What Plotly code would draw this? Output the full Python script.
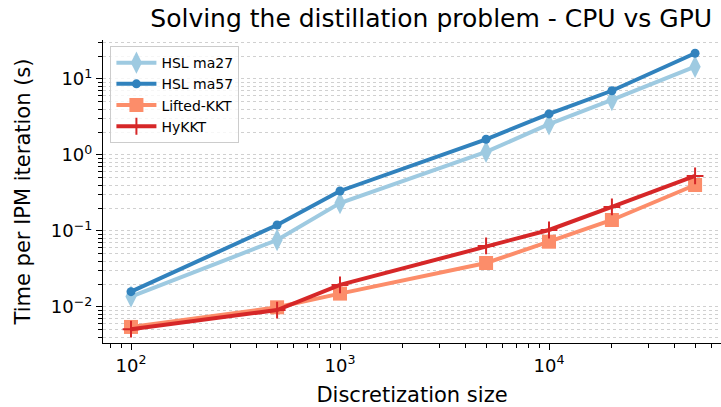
import plotly.graph_objects as go

sizes = [100, 500, 1000, 5000, 10000, 20000, 50000]
ma27 = [0.0137, 0.076, 0.233, 1.10, 2.54, 5.3, 14.5]
ma57 = [0.0159, 0.120, 0.336, 1.61, 3.47, 7.0, 21.8]
lifted = [0.00546, 0.0099, 0.0150, 0.0379, 0.0723, 0.1395, 0.403]
hykkt = [0.0051, 0.0091, 0.0195, 0.0635, 0.103, 0.207, 0.53]

x_tickvals = [100, 1000, 10000]
x_ticktext = ["10<sup>2</sup>", "10<sup>3</sup>", "10<sup>4</sup>"]
y_tickvals = [0.01, 0.1, 1, 10]
y_ticktext = ["10<sup>\u22122</sup>", "10<sup>\u22121</sup>", "10<sup>0</sup>", "10<sup>1</sup>"]

# minor tick positions (2..9 within each decade)
x_minor = [m * 10 ** e for e in range(1, 5) for m in range(2, 10)]
y_minor = [m * 10.0 ** e for e in range(-3, 2) for m in range(2, 10)]

FONT = "DejaVu Sans"

fig = go.Figure()
fig.add_trace(go.Scatter(x=sizes, y=ma27, name="HSL ma27", mode="lines+markers",
                         line=dict(color="#9ecae1", width=4),
                         marker=dict(symbol="diamond-tall", size=16, color="#9ecae1")))
fig.add_trace(go.Scatter(x=sizes, y=ma57, name="HSL ma57", mode="lines+markers",
                         line=dict(color="#3182bd", width=4),
                         marker=dict(symbol="circle", size=9, color="#3182bd")))
fig.add_trace(go.Scatter(x=sizes, y=lifted, name="Lifted-KKT", mode="lines+markers",
                         line=dict(color="#fc8d6a", width=4),
                         marker=dict(symbol="square", size=14, color="#fc8d6a")))
fig.add_trace(go.Scatter(x=sizes, y=hykkt, name="HyKKT", mode="lines+markers",
                         line=dict(color="#d62728", width=4),
                         marker=dict(symbol="cross-thin", size=12, color="#d62728",
                                     line=dict(color="#d62728", width=2))))

fig.update_layout(
    width=721, height=407,
    margin=dict(l=103, r=0, t=40, b=64, autoexpand=False),
    paper_bgcolor="white", plot_bgcolor="white",
    font=dict(family=FONT, color="black"),
    title=dict(text="Solving the distillation problem - CPU vs GPU", x=0.598, xanchor="center",
               y=0.956, yanchor="middle", font=dict(size=25, family=FONT)),
    showlegend=True,
    legend=dict(x=0.012, y=0.98, xanchor="left", yanchor="top",
                bgcolor="rgba(255,255,255,0.8)", bordercolor="#cccccc", borderwidth=1,
                font=dict(size=14, family=FONT), tracegroupgap=0, itemwidth=40),
)
fig.update_xaxes(type="log", range=[1.866, 4.823], showline=True, linecolor="black", linewidth=1.2,
                 ticks="outside", ticklen=6, tickcolor="black", showgrid=False, zeroline=False,
                 tickmode="array", tickvals=x_tickvals, ticktext=x_ticktext, automargin=False,
                 tickfont=dict(size=18, family=FONT),
                 minor=dict(tickmode="array", tickvals=x_minor, ticks="outside", ticklen=3.5,
                            tickcolor="black", showgrid=False),
                 title=dict(text="Discretization size", font=dict(size=21, family=FONT), standoff=12))
fig.update_yaxes(type="log", range=[-2.474, 1.513], showline=True, linecolor="black", linewidth=1.2,
                 ticks="outside", ticklen=6, tickcolor="black", showgrid=True, gridcolor="#d0d0d0",
                 griddash="dot", gridwidth=1, zeroline=False,
                 tickmode="array", tickvals=y_tickvals, ticktext=y_ticktext, automargin=False,
                 tickfont=dict(size=18, family=FONT),
                 minor=dict(tickmode="array", tickvals=y_minor, ticks="outside", ticklen=3.5,
                            tickcolor="black", showgrid=True,
                            gridcolor="#d0d0d0", griddash="dot", gridwidth=1),
                 title=dict(text="Time per IPM iteration (s)", font=dict(size=21, family=FONT), standoff=14))

fig.write_html("out.html", config={"displayModeBar": False},
               post_script="document.body.style.margin='0';")
